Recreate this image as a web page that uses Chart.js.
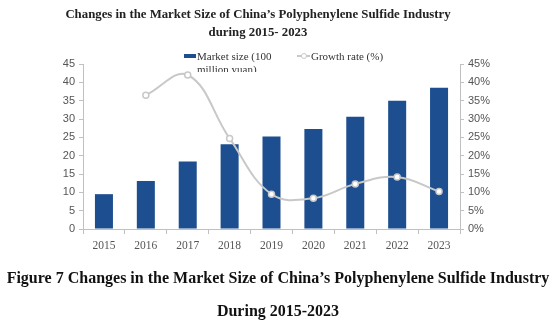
<!DOCTYPE html>
<html>
<head>
<meta charset="utf-8">
<script src="https://cdn.jsdelivr.net/npm/chart.js@4.4.0/dist/chart.umd.min.js"></script>
<style>
  html, body { margin: 0; padding: 0; background: #fff; }
  #wrap { position: relative; width: 555px; height: 324px; overflow: hidden; }
  #c { position: absolute; left: 0; top: 0; }
  .t { position: absolute; font-family: "Liberation Serif", "Times New Roman", serif; color: #222; white-space: nowrap; }
  .title { font-weight: bold; font-size: 12.8px; left: 0; width: 516px; text-align: center; line-height: 15px; }
  .cap { font-weight: bold; font-size: 16px; left: 0; width: 556px; text-align: center; color: #111; line-height: 18px; }
  .leg { font-size: 11px; color: #333; line-height: 13px; }
</style>
</head>
<body>
<div id="wrap">
  <canvas id="c" width="555" height="324"></canvas>
  <div class="t title" style="top:7px;">Changes in the Market Size of China’s Polyphenylene Sulfide Industry</div>
  <div class="t title" style="top:25px;">during 2015- 2023</div>
  <div style="position:absolute;left:184px;top:54px;width:12px;height:4px;background:#1d4e8f;"></div>
  <div class="t leg" style="left:197px;top:50px;height:22px;overflow:hidden;">Market size (100<br>million yuan)</div>
  <div style="position:absolute;left:297px;top:55px;width:13px;height:2px;background:#c8c8c8;"></div>
  <div style="position:absolute;left:301px;top:53px;width:4px;height:4px;border:1px solid #c8c8c8;border-radius:50%;background:#fff;"></div>
  <div class="t leg" style="left:311px;top:50px;">Growth rate (%)</div>
  <div class="t cap" style="top:269px;">Figure 7 Changes in the Market Size of China’s Polyphenylene Sulfide Industry</div>
  <div class="t cap" style="top:302px;">During 2015-2023</div>
</div>
<script>
const years = ["2015","2016","2017","2018","2019","2020","2021","2022","2023"];
const marketSize = [9.5, 13.1, 18.4, 23.1, 25.2, 27.3, 30.6, 35.0, 38.5];
const growthRate = [null, 36.5, 42.0, 24.7, 9.5, 8.4, 12.3, 14.2, 10.2];
const leftTicks = [0, 5, 10, 15, 20, 25, 30, 35, 40, 45];

const axisColor = '#c0c0c0';
const tickColor = '#555';

new Chart(document.getElementById('c'), {
  type: 'bar',
  data: {
    labels: years,
    datasets: [
      {
        type: 'line',
        label: 'Growth rate (%)',
        data: growthRate,
        yAxisID: 'y1',
        borderColor: '#c8c8c8',
        borderWidth: 2,
        tension: 0.4,
        pointRadius: 3,
        pointBackgroundColor: '#fff',
        pointBorderColor: '#c8c8c8',
        pointBorderWidth: 1.5,
        spanGaps: false,
        order: 0
      },
      {
        type: 'bar',
        label: 'Market size (100 million yuan)',
        data: marketSize,
        yAxisID: 'y',
        backgroundColor: '#1d4e8f',
        categoryPercentage: 0.43,
        barPercentage: 1.0,
        order: 1
      }
    ]
  },
  options: {
    responsive: false,
    animation: false,
    devicePixelRatio: 1,
    layout: { padding: { left: 0, right: 0, top: 64, bottom: 0 } },
    plugins: { legend: { display: false }, title: { display: false }, tooltip: { enabled: false } },
    scales: {
      x: {
        grid: { display: true, drawOnChartArea: false, drawTicks: true, tickLength: 5, color: axisColor, offset: true },
        border: { display: true, color: axisColor, width: 1 },
        ticks: { color: tickColor, font: { family: 'Liberation Serif', size: 11.5 }, padding: 5, maxRotation: 0 },
        afterFit: (s) => { s.height = 95; }
      },
      y: {
        position: 'left',
        min: 0, max: 45,
        afterBuildTicks: (s) => { s.ticks = leftTicks.map(v => ({ value: v })); },
        grid: { display: true, drawOnChartArea: false, drawTicks: true, tickLength: 4, color: axisColor },
        border: { display: true, color: axisColor, width: 1 },
        ticks: { color: tickColor, font: { family: 'Liberation Sans', size: 11 }, padding: 4 },
        afterFit: (s) => { s.width = 83; }
      },
      y1: {
        position: 'right',
        min: 0, max: 45,
        afterBuildTicks: (s) => { s.ticks = leftTicks.map(v => ({ value: v })); },
        grid: { display: true, drawOnChartArea: false, drawTicks: true, tickLength: 4, color: axisColor },
        border: { display: true, color: axisColor, width: 1 },
        ticks: { color: tickColor, font: { family: 'Liberation Sans', size: 11 }, padding: 4, callback: (v) => v + '%' },
        afterFit: (s) => { s.width = 95; }
      }
    }
  }
});
</script>
</body>
</html>
